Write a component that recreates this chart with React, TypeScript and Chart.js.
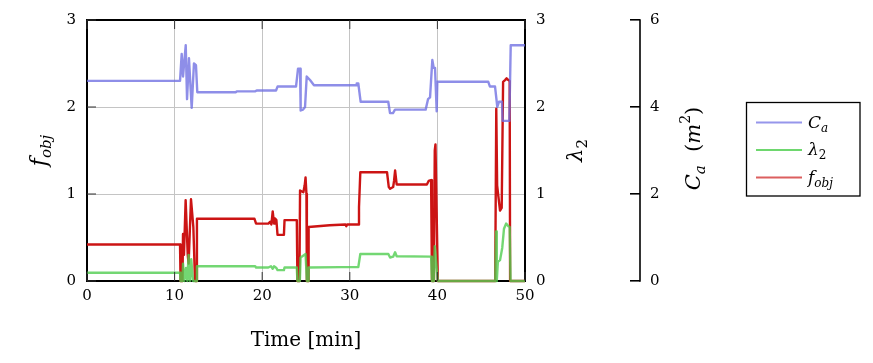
import React, { useEffect, useRef } from "react";
import { Chart, registerables } from "chart.js";

Chart.register(...registerables);

// ---- data ----
const caTime = [0, 10.62, 10.81, 10.96, 11.27, 11.42, 11.64, 11.95, 12.21, 12.44, 12.59, 17.0, 17.1, 19.18, 19.41, 21.58, 21.75, 23.86, 24.09, 24.32, 24.39, 24.66, 24.89, 25.08, 25.46, 25.57, 25.91, 30.71, 30.79, 30.97, 31.24, 34.39, 34.59, 34.93, 35.16, 38.66, 38.93, 39.16, 39.42, 39.58, 39.73, 39.92, 39.99, 45.81, 46.0, 46.58, 46.84, 47.03, 47.37, 47.45, 48.21, 48.37, 50];
const caValues = [4.60, 4.60, 5.22, 4.70, 5.42, 4.18, 5.12, 3.98, 5.00, 4.96, 4.34, 4.34, 4.36, 4.36, 4.38, 4.38, 4.47, 4.47, 4.88, 4.88, 3.92, 3.94, 4.00, 4.70, 4.62, 4.62, 4.50, 4.50, 4.54, 4.54, 4.12, 4.12, 3.86, 3.86, 3.94, 3.94, 4.18, 4.22, 5.08, 4.90, 4.90, 3.90, 4.58, 4.58, 4.47, 4.47, 4.00, 4.12, 4.12, 3.68, 3.68, 5.42, 5.42];

const lambdaTime = [0, 10.62, 10.68, 10.9, 10.96, 11.1, 11.3, 11.45, 11.6, 11.75, 11.9, 12.1, 12.45, 12.55, 19.2, 19.3, 20.7, 21.0, 21.2, 21.35, 21.62, 21.75, 22.48, 22.55, 23.95, 24.02, 24.3, 24.38, 24.95, 25.1, 25.25, 25.3, 29.0, 30.97, 31.2, 34.4, 34.6, 34.95, 35.17, 35.35, 39.28, 39.38, 39.6, 39.7, 40.05, 46.6, 46.7, 46.78, 46.9, 47.15, 47.4, 47.6, 47.85, 48.1, 48.25, 48.35, 50];
const lambdaValues = [0.095, 0.095, 0, 0, 0.2, 0, 0.15, 0, 0.3, 0, 0.25, 0, 0, 0.17, 0.17, 0.155, 0.155, 0.17, 0.14, 0.17, 0.15, 0.125, 0.125, 0.155, 0.155, 0, 0, 0.27, 0.31, 0, 0, 0.155, 0.16, 0.16, 0.31, 0.31, 0.27, 0.28, 0.33, 0.285, 0.28, 0, 0, 0.40, 0, 0, 0.57, 0, 0.22, 0.24, 0.38, 0.6, 0.66, 0.63, 0.62, 0, 0];

const fobjTime = [0, 10.62, 10.68, 10.9, 10.96, 11.07, 11.26, 11.5, 11.6, 11.87, 12.14, 12.33, 12.45, 12.55, 19.12, 19.3, 20.7, 20.9, 21.05, 21.2, 21.35, 21.45, 21.62, 21.75, 22.48, 22.55, 23.95, 24.02, 24.25, 24.32, 24.7, 24.85, 24.95, 25.05, 25.1, 25.25, 25.3, 27.7, 29.5, 29.6, 29.7, 30.97, 31.05, 31.2, 34.25, 34.45, 34.6, 34.95, 35.05, 35.17, 35.35, 38.8, 39.0, 39.28, 39.38, 39.6, 39.7, 39.78, 40.05, 46.6, 46.72, 46.82, 46.95, 47.15, 47.34, 47.5, 47.72, 47.9, 48.1, 48.25, 48.3, 50];
const fobjValues = [0.42, 0.42, 0, 0, 0.54, 0.3, 0.93, 0.3, 0.2, 0.94, 0.62, 0, 0, 0.715, 0.715, 0.66, 0.66, 0.68, 0.65, 0.80, 0.66, 0.72, 0.70, 0.53, 0.53, 0.70, 0.70, 0, 0, 1.04, 1.02, 1.10, 1.19, 1.0, 0, 0, 0.62, 0.64, 0.65, 0.63, 0.65, 0.65, 0.85, 1.25, 1.25, 1.08, 1.06, 1.08, 1.15, 1.27, 1.11, 1.11, 1.15, 1.16, 0, 0, 1.50, 1.57, 0, 0, 1.98, 1.1, 0.98, 0.81, 0.84, 2.29, 2.31, 2.33, 2.31, 2.30, 0, 0];

const xTicks = [0, 10, 20, 30, 40, 50];
const fobjTicks = [0, 1, 2, 3];
const lambdaTicks = [0, 1, 2, 3];
const caTicks = [0, 2, 4, 6];

const SERIF = "'DejaVu Serif', serif";

type Part = { t: string; s: number; it?: boolean; dy?: number };

function drawParts(ctx: CanvasRenderingContext2D, parts: Part[], cx: number, cy: number, rotate: boolean, align: "center" | "left") {
  ctx.save();
  ctx.translate(cx, cy);
  if (rotate) ctx.rotate(-Math.PI / 2);
  ctx.textBaseline = "alphabetic";
  ctx.textAlign = "left";
  ctx.fillStyle = "#000";
  const widths = parts.map((p) => {
    ctx.font = `${p.it ? "italic " : ""}${p.s}px ${SERIF}`;
    return ctx.measureText(p.t).width;
  });
  const total = widths.reduce((a, b) => a + b, 0);
  let x = align === "center" ? -total / 2 : 0;
  const base = parts[0].s * 0.36;
  parts.forEach((p, i) => {
    ctx.font = `${p.it ? "italic " : ""}${p.s}px ${SERIF}`;
    ctx.fillText(p.t, x, base + (p.dy || 0));
    x += widths[i];
  });
  ctx.restore();
}

const decorPlugin = {
  id: "decor",
  afterDraw(chart: any) {
    const ctx: CanvasRenderingContext2D = chart.ctx;
    const { left, right, top, bottom } = chart.chartArea;
    const xs = chart.scales.x;
    const ys = chart.scales.y;
    const y3 = chart.scales.y3;
    ctx.save();
    const seg = (x1: number, y1: number, x2: number, y2: number) => {
      ctx.beginPath();
      ctx.moveTo(x1, y1);
      ctx.lineTo(x2, y2);
      ctx.stroke();
    };
    // inward ticks
    ctx.strokeStyle = "#333";
    ctx.lineWidth = 1;
    xTicks.forEach((v) => {
      const px = xs.getPixelForValue(v);
      seg(px, bottom, px, bottom - 9);
      seg(px, top, px, top + 9);
    });
    fobjTicks.forEach((v) => {
      const py = ys.getPixelForValue(v);
      seg(left, py, left + 9, py);
    });
    // C_a axis line (ticks drawn by Chart.js to its left)
    ctx.strokeStyle = "#000";
    ctx.lineWidth = 1.6;
    seg(y3.left + 10, y3.getPixelForValue(6) - 0.8, y3.left + 10, y3.getPixelForValue(0) + 0.8);

    // axis titles
    const midY = (top + bottom) / 2;
    drawParts(ctx, [{ t: "f", s: 22, it: true }, { t: "obj", s: 15, it: true, dy: 5 }], 38, midY, true, "center");
    drawParts(ctx, [{ t: "λ", s: 21, it: true }, { t: "2", s: 15, dy: 5 }], 574, midY, true, "center");
    drawParts(
      ctx,
      [
        { t: "C", s: 21, it: true },
        { t: "a", s: 15, it: true, dy: 5 },
        { t: "  (", s: 21 },
        { t: "m", s: 21, it: true },
        { t: "2", s: 14, dy: -10 },
        { t: ")", s: 21 },
      ],
      692,
      midY - 2,
      true,
      "center"
    );

    // legend
    const lx = 746.5, ly = 102.5, lw = 113.5, lh = 93.5;
    ctx.fillStyle = "#fff";
    ctx.fillRect(lx, ly, lw, lh);
    ctx.strokeStyle = "#000";
    ctx.lineWidth = 1.3;
    ctx.strokeRect(lx, ly, lw, lh);
    const items: { c: string; parts: Part[] }[] = [
      { c: "rgb(150,150,235)", parts: [{ t: "C", s: 17, it: true }, { t: "a", s: 12, it: true, dy: 4 }] },
      { c: "rgb(110,215,110)", parts: [{ t: "λ", s: 17, it: true }, { t: "2", s: 12, dy: 4 }] },
      { c: "rgb(220,95,95)", parts: [{ t: "f", s: 17, it: true }, { t: "obj", s: 12, it: true, dy: 4 }] },
    ];
    items.forEach((it, i) => {
      const yy = 122.5 + i * 27.5;
      ctx.strokeStyle = it.c;
      ctx.lineWidth = 2;
      seg(756, yy, 802, yy);
      drawParts(ctx, it.parts, 808, yy - 1, false, "left");
    });
    ctx.restore();
  },
};

export default function App() {
  const ref = useRef<HTMLCanvasElement | null>(null);
  useEffect(() => {
    if (!ref.current) return;
    const tickFont = { family: SERIF, size: 15 };
    const common = { pointRadius: 0, tension: 0, borderJoinStyle: "round", borderWidth: 2.4, clip: 4 };
    const chart = new Chart(ref.current, {
      type: "line",
      data: {
        datasets: [
          {
            label: "C_a",
            data: caTime.map((t, i) => ({ x: t, y: caValues[i] })),
            yAxisID: "y3",
            borderColor: "rgba(110,110,225,0.78)",
            ...common,
          },
          {
            label: "λ2",
            data: lambdaTime.map((t, i) => ({ x: t, y: lambdaValues[i] })),
            yAxisID: "y2",
            borderColor: "rgba(80,205,80,0.8)",
            ...common,
          },
          {
            label: "f_obj",
            data: fobjTime.map((t, i) => ({ x: t, y: fobjValues[i] })),
            yAxisID: "y",
            borderColor: "rgb(204,20,20)",
            ...common,
          },
        ],
      },
      options: {
        responsive: false,
        animation: false,
        devicePixelRatio: 1,
        layout: { padding: { left: 0, right: 143, top: 18, bottom: 0 } },
        plugins: { legend: { display: false }, tooltip: { enabled: false } },
        scales: {
          x: {
            type: "linear",
            position: "bottom",
            min: 0,
            max: 50,
            afterBuildTicks: (s: any) => { s.ticks = xTicks.map((v) => ({ value: v })); },
            ticks: { font: tickFont, color: "#000", padding: 6, maxRotation: 0 },
            grid: { color: "#c4c4c4", lineWidth: 1, drawTicks: false },
            border: { color: "#000", width: 2 },
            title: { display: true, text: "Time [min]", font: { family: SERIF, size: 20 }, color: "#000", padding: { top: 0, bottom: 10 } },
            afterFit: (s: any) => { s.height = 82; },
          },
          xTop: {
            type: "linear",
            position: "top",
            min: 0,
            max: 50,
            ticks: { display: false },
            grid: { display: true, drawOnChartArea: false, drawTicks: false },
            border: { color: "#000", width: 2 },
            afterFit: (s: any) => { s.height = 0; },
          },
          y: {
            type: "linear",
            position: "left",
            min: 0,
            max: 3,
            afterBuildTicks: (s: any) => { s.ticks = fobjTicks.map((v) => ({ value: v })); },
            ticks: { font: tickFont, color: "#000", padding: 11 },
            grid: { color: "#c4c4c4", lineWidth: 1, drawTicks: false },
            border: { color: "#000", width: 2 },
            afterFit: (s: any) => { s.width = 87; },
          },
          y2: {
            type: "linear",
            position: "right",
            weight: 0,
            min: 0,
            max: 3,
            afterBuildTicks: (s: any) => { s.ticks = lambdaTicks.map((v) => ({ value: v })); },
            ticks: { font: tickFont, color: "#000", padding: 11 },
            grid: { drawOnChartArea: false, drawTicks: false },
            border: { color: "#000", width: 2 },
            afterFit: (s: any) => { s.width = 105; },
          },
          y3: {
            type: "linear",
            position: "right",
            weight: 1,
            min: 0,
            max: 6,
            afterBuildTicks: (s: any) => { s.ticks = caTicks.map((v) => ({ value: v })); },
            ticks: { font: tickFont, color: "#000", padding: 10 },
            grid: { drawOnChartArea: false, drawTicks: true, tickLength: 10, tickColor: "#000", lineWidth: 1.6 },
            border: { display: false },
            afterFit: (s: any) => { s.width = 100; },
          },
        },
      } as any,
      plugins: [decorPlugin as any],
    });
    return () => chart.destroy();
  }, []);
  return (
    <div style={{ position: "fixed", left: 0, top: 0, width: 873, height: 363, background: "#fff" }}>
      <canvas ref={ref} width={873} height={363} style={{ display: "block", width: 873, height: 363 }} />
    </div>
  );
}
